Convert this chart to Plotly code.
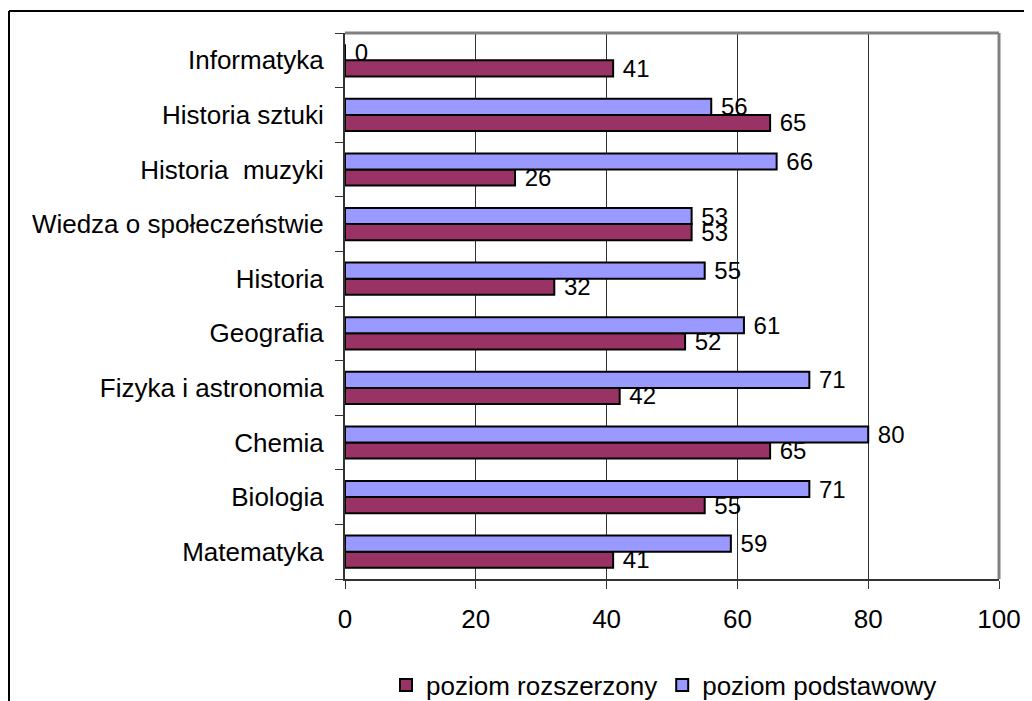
import plotly.graph_objects as go

categories = ["Matematyka", "Biologia", "Chemia", "Fizyka i astronomia", "Geografia",
              "Historia", "Wiedza o społeczeństwie", "Historia\u00a0 muzyki",
              "Historia sztuki", "Informatyka"]
rozszerzony = [41, 55, 65, 42, 52, 32, 53, 26, 65, 41]
podstawowy = [59, 71, 80, 71, 61, 55, 53, 66, 56, 0]
x_ticks = [0, 20, 40, 60, 80, 100]

# page has an 8px body margin, so the figure is 1024x693 placed at (8, 8)
W, H = 1024, 693
L, R, T, B = 337, 33, 25, 122
PW, PH = W - L - R, H - T - B

def px_x(p):
    return (p - L) / PW

def px_y(p):
    return (H - B - p) / PH

FONT = "Arial, Liberation Sans, sans-serif"

fig = go.Figure()
fig.add_trace(go.Bar(
    y=categories, x=rozszerzony, orientation="h", name="poziom rozszerzony",
    marker=dict(color="#993366", line=dict(color="black", width=2)),
    text=[" " + str(v) for v in rozszerzony], textposition="outside",
    textfont=dict(family=FONT, size=24, color="black"),
    constraintext="none", cliponaxis=False,
))
fig.add_trace(go.Bar(
    y=categories, x=podstawowy, orientation="h", name="poziom podstawowy",
    marker=dict(color="#9999FF", line=dict(color="black", width=2)),
    text=[" " + str(v) for v in podstawowy], textposition="outside",
    textfont=dict(family=FONT, size=24, color="black"),
    constraintext="none", cliponaxis=False,
))

fig.update_layout(
    width=W, height=H,
    margin=dict(l=L, r=R, t=T, b=B, pad=0),
    barmode="group", bargap=0.41, bargroupgap=0,
    plot_bgcolor="white", paper_bgcolor="white",
    font=dict(family=FONT, size=26, color="black"),
    showlegend=True,
    legend=dict(orientation="h", xref="paper", x=px_x(656), xanchor="center",
                yref="container", y=(H - 677) / H, yanchor="middle",
                font=dict(family=FONT, size=26, color="black"), traceorder="normal",
                itemwidth=30, bgcolor="rgba(0,0,0,0)"),
    xaxis=dict(range=[0, 100], tickvals=x_ticks, showgrid=True, gridcolor="#333333",
               gridwidth=1, showline=True, linecolor="#333333", linewidth=2,
               ticks="outside", ticklen=8, tickcolor="#333333", tickwidth=1,
               ticklabelstandoff=8, zeroline=False, automargin=False,
               tickfont=dict(family=FONT, size=26, color="black")),
    yaxis=dict(showline=True, linecolor="#333333", linewidth=2, ticks="outside",
               tickson="boundaries", ticklen=8, tickcolor="#333333", tickwidth=1,
               showgrid=False, ticklabelstandoff=14, automargin=False,
               tickfont=dict(family=FONT, size=26, color="black")),
    shapes=[
        dict(type="line", xref="paper", yref="paper", x0=0, x1=1, y0=1, y1=1,
             line=dict(color="#808080", width=3)),
        dict(type="line", xref="paper", yref="paper", x0=1, x1=1, y0=0, y1=1,
             line=dict(color="#808080", width=3)),
        dict(type="line", xref="paper", yref="paper", x0=px_x(1), x1=px_x(W),
             y0=px_y(3), y1=px_y(3), line=dict(color="black", width=2)),
        dict(type="line", xref="paper", yref="paper", x0=px_x(1), x1=px_x(1),
             y0=px_y(3), y1=px_y(H), line=dict(color="black", width=2)),
    ],
)

fig.write_html("out.html")
